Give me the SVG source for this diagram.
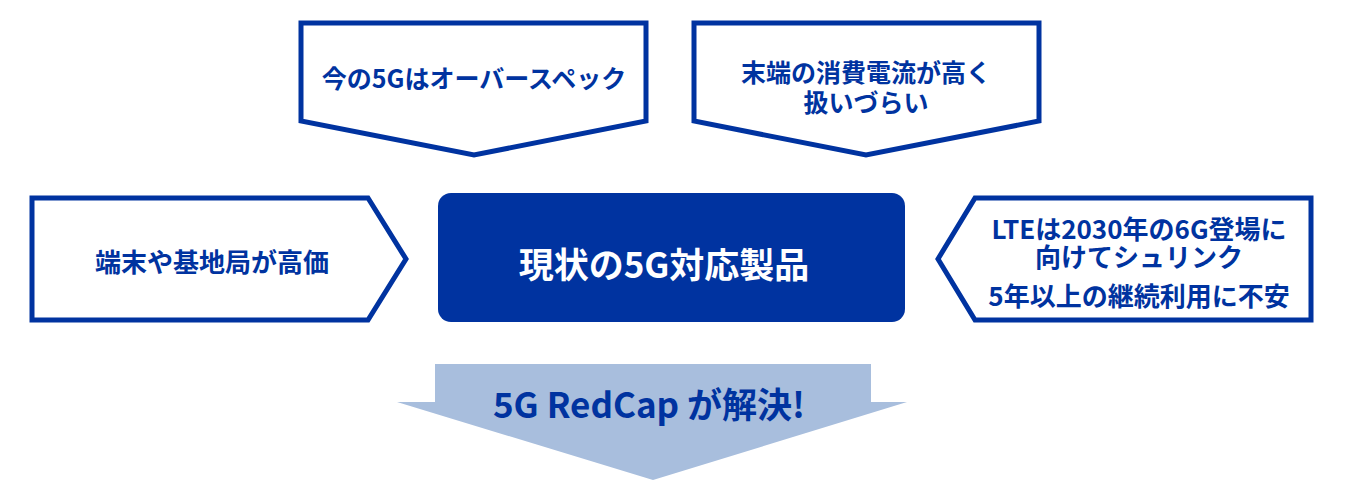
<svg xmlns="http://www.w3.org/2000/svg" width="1347" height="490" viewBox="0 0 1347 490">
<style>
.box{fill:#ffffff;stroke:#0033a0;stroke-width:5;stroke-linejoin:miter}
.t{font-family:"Noto Sans CJK JP","Noto Sans",sans-serif;font-weight:700;fill:#0033a0;text-anchor:middle;dominant-baseline:central}
.s{font-size:25px}
.m{font-size:26px}
</style>
<rect width="1347" height="490" fill="#ffffff"/>
<g id="connectors">
<polygon id="solve-arrow" points="435,364 871,364 871,402 907,402 653,480 397,402 435,402" fill="#a8bedd"/>
<text class="t" x="649" y="402" font-size="35">5G RedCap が解決!</text>
</g>
<g id="node-overspec">
<polygon class="box" points="301,23 646,23 646,121 474,155 301,121"/>
<text class="t s" x="474" y="77">今の5Gはオーバースペック</text>
</g>
<g id="node-power">
<polygon class="box" points="694,23 1039,23 1039,121 866,155 694,121"/>
<text class="t s" x="866" y="71">末端の消費電流が高く<tspan x="866" dy="30">扱いづらい</tspan></text>
</g>
<g id="node-price">
<polygon class="box" points="32,198 368,198 406,259 368,320 32,320"/>
<text class="t m" x="212" y="260">端末や基地局が高価</text>
</g>
<g id="node-lte">
<polygon class="box" points="975,198 1311,198 1311,320 975,320 938,259"/>
<text class="t m" x="1139" y="227">LTEは2030年の6G登場に<tspan x="1139" dy="28">向けてシュリンク</tspan><tspan x="1139" dy="39">5年以上の継続利用に不安</tspan></text>
</g>
<g id="node-current">
<rect x="438" y="193" width="467" height="129" rx="13" fill="#0033a0"/>
<text class="t" x="664" y="262" font-size="35" style="fill:#ffffff">現状の5G対応製品</text>
</g>
</svg>
